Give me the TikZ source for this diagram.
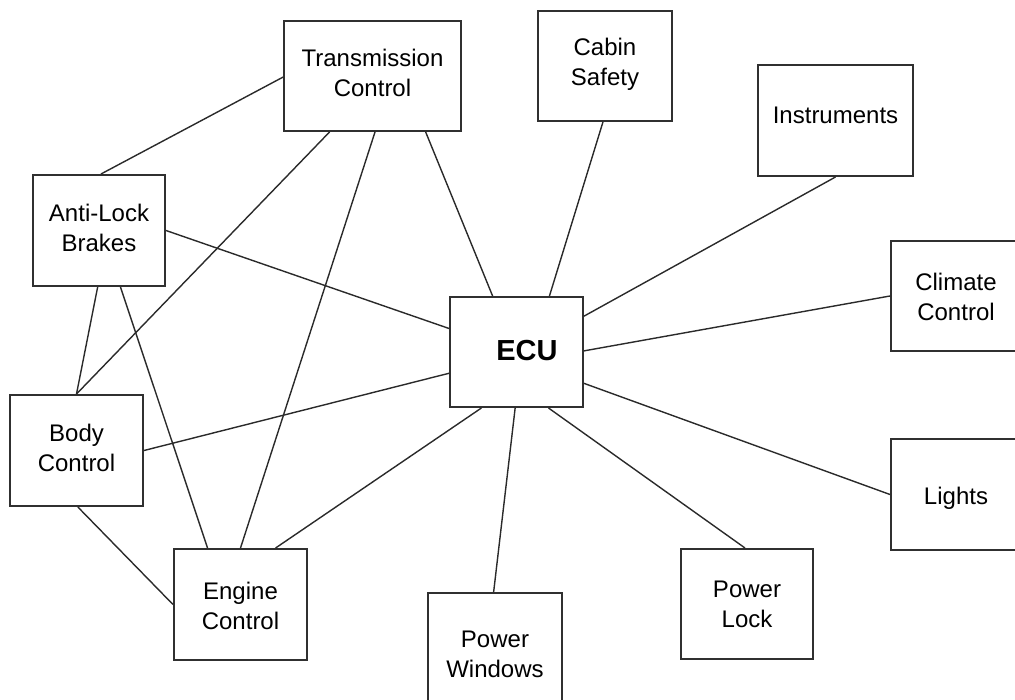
\documentclass[tikz,border=0pt]{standalone}
\usepackage{fontspec}
\setmainfont{Liberation Sans}
\usetikzlibrary{calc}
\definecolor{boxline}{HTML}{303030}
\definecolor{wire}{HTML}{2A2A2A}
\begin{document}
\begin{tikzpicture}[x=1pt,y=-1pt,
  unit/.style={draw=boxline,line width=2pt,fill=white,inner sep=0pt},
  caption/.style={align=center,inner sep=0pt,font=\fontsize{24}{30}\selectfont},
  wirestyle/.style={draw=wire,line width=1.4pt}]
\useasboundingbox (0,0) rectangle (1015,700);
\begin{scope}
\clip (0,0) rectangle (1015,700);
% control unit boxes
\node[unit,minimum width=177pt,minimum height=110pt] (tc) at (372.5,76) {};
\node[unit,minimum width=134pt,minimum height=110pt] (cs) at (605,66) {};
\node[unit,minimum width=155pt,minimum height=111pt] (ins) at (835.5,120.5) {};
\node[unit,minimum width=132pt,minimum height=111pt] (ab) at (99,230.5) {};
\node[unit,minimum width=132pt,minimum height=110pt] (cc) at (957,296) {};
\node[unit,minimum width=133pt,minimum height=110pt] (ecu) at (516.5,352) {};
\node[unit,minimum width=133pt,minimum height=111pt] (bc) at (76.5,450.5) {};
\node[unit,minimum width=132pt,minimum height=111pt] (li) at (957,494.5) {};
\node[unit,minimum width=133pt,minimum height=111pt] (ec) at (240.5,604.5) {};
\node[unit,minimum width=132pt,minimum height=110pt] (pl) at (747,604) {};
\node[unit,minimum width=134pt,minimum height=110pt] (pw) at (495,648) {};
% box captions
\node[caption] (tct) at ($(tc)+(0,-3)$) {Transmission\\Control};
\node[caption] (cst) at ($(cs)+(0,-2)$) {Cabin\\Safety};
\node[caption] (inst) at ($(ins)+(0,-5)$) {Instruments};
\node[caption] (abt) at ($(ab)+(0,-3)$) {Anti-Lock\\Brakes};
\node[caption] (cct) at ($(cc)+(-1,1)$) {Climate\\Control};
\node[font=\fontsize{29}{34}\selectfont\bfseries,inner sep=0pt] (ecut) at (527,351) {ECU};
\node[caption] (bct) at ($(bc)+(0,-3)$) {Body\\Control};
\node[caption] (lit) at ($(li)+(-1,4)$) {Lights};
\node[caption] (ect) at ($(ec)+(0,1)$) {Engine\\Control};
\node[caption] (plt) at ($(pl)+(0,0)$) {Power\\Lock};
\node[caption] (pwt) at ($(pw)+(0,6)$) {Power\\Windows};
\end{scope}
% links between units
\draw[wirestyle] ($(tc.north west)!0.51!(tc.south west)$) -- ($(ab.north west)!0.515!(ab.north east)$);
\draw[wirestyle] ($(tc.south west)!0.26!(tc.south east)$) -- (bc.north);
\draw[wirestyle] ($(tc.south west)!0.514!(tc.south east)$) -- (ec.north);
\draw[wirestyle] ($(tc.south west)!0.797!(tc.south east)$) -- ($(ecu.north west)!0.323!(ecu.north east)$);
\draw[wirestyle] ($(cs.south west)!0.485!(cs.south east)$) -- ($(ecu.north west)!0.744!(ecu.north east)$);
\draw[wirestyle] (ins.south) -- ($(ecu.north east)!0.18!(ecu.south east)$);
\draw[wirestyle] (cc.west) -- ($(ecu.north east)!0.49!(ecu.south east)$);
\draw[wirestyle] (li.west) -- ($(ecu.north east)!0.78!(ecu.south east)$);
\draw[wirestyle] ($(pl.north west)!0.485!(pl.north east)$) -- ($(ecu.south west)!0.737!(ecu.south east)$);
\draw[wirestyle] ($(pw.north west)!0.49!(pw.north east)$) -- ($(ecu.south west)!0.49!(ecu.south east)$);
\draw[wirestyle] ($(ec.north west)!0.76!(ec.north east)$) -- ($(ecu.south west)!0.24!(ecu.south east)$);
\draw[wirestyle] (bc.east) -- ($(ecu.north west)!0.69!(ecu.south west)$);
\draw[wirestyle] (ab.east) -- ($(ecu.north west)!0.29!(ecu.south west)$);
\draw[wirestyle] ($(ab.south west)!0.49!(ab.south east)$) -- (bc.north);
\draw[wirestyle] ($(ab.south west)!0.66!(ab.south east)$) -- ($(ec.north west)!0.256!(ec.north east)$);
\draw[wirestyle] ($(bc.south west)!0.51!(bc.south east)$) -- (ec.west);
\end{tikzpicture}
\end{document}
